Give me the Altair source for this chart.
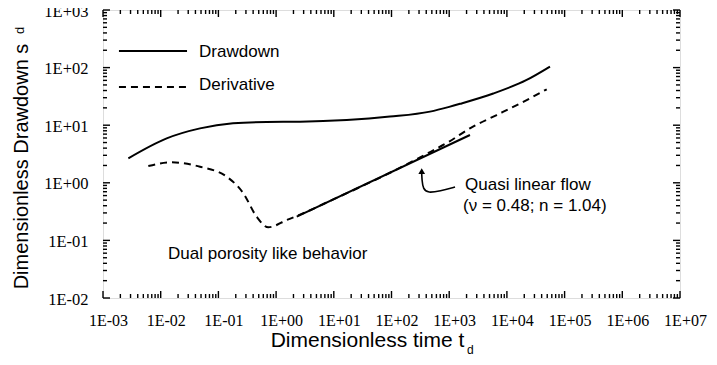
import altair as alt
import pandas as pd

# ---------------- data ----------------
drawdown_t = [0.00275, 0.0127, 0.048, 0.179, 0.688, 2.6, 16.7, 94, 464, 1000, 1540, 5810, 22000, 55800]
drawdown_s = [2.66, 5.9, 8.8, 10.8, 11.4, 11.5, 12.3, 14.1, 17.2, 20.8, 23.5, 35.5, 61, 104]

deriv_t = [0.0061, 0.0155, 0.048, 0.139, 0.27, 0.46, 0.733, 1.53, 2.6, 10, 100, 400, 1000, 2450, 6650, 20000, 49000]
deriv_s = [1.96, 2.27, 1.9, 1.28, 0.66, 0.258, 0.169, 0.226, 0.28, 0.52, 1.54, 3.15, 5.2, 9.2, 15, 26, 42]

fit_t = [2.28, 2290]
fit_s = [0.258, 6.76]

arrow_t = [1262, 692, 429, 352, 338, 334]
arrow_s = [0.845, 0.721, 0.665, 0.78, 1.12, 1.42]
arrow_head_t = [334]
arrow_head_s = [1.6]

x_decades = [1e-3, 1e-2, 1e-1, 1e0, 1e1, 1e2, 1e3, 1e4, 1e5, 1e6, 1e7]
x_labels = ["1E-03", "1E-02", "1E-01", "1E+00", "1E+01", "1E+02", "1E+03", "1E+04", "1E+05", "1E+06", "1E+07"]
y_decades = [1e-2, 1e-1, 1e0, 1e1, 1e2, 1e3]
y_labels = ["1E-02", "1E-01", "1E+00", "1E+01", "1E+02", "1E+03"]
minor_mult = [2, 3, 4, 5, 6, 7, 8, 9]

legend_line_t = [0.00189, 0.0286]
legend_drawdown_s = [194, 194]
legend_deriv_s = [46, 46]
legend_text_t = [0.0462, 0.0462]
legend_text_s = [187, 49.9]
legend_text = ["Drawdown", "Derivative"]

note_t = [1880, 1735, 0.0134]
note_s = [0.916, 0.396, 0.058]
note_text = ["Quasi linear flow", "(\u03bd = 0.48; n = 1.04)", "Dual porosity like behavior"]

# ---------------- layout ----------------
W, H = 577, 288
SANS = "Liberation Sans, Arial, Helvetica, sans-serif"
SERIF = "Liberation Serif, Times New Roman, DejaVu Serif, serif"

xs = alt.Scale(type="log", domain=[1e-3, 1e7], nice=False)
ys = alt.Scale(type="log", domain=[1e-2, 1e3], nice=False)


def label_expr(labels, first_exp):
    arr = "[" + ",".join("'%s'" % l for l in labels) + "]"
    return "%s[round(log(datum.value)/LN10) - (%d)]" % (arr, first_exp)


x_axis = alt.Axis(
    values=x_decades, labelExpr=label_expr(x_labels, -3), ticks=False, domain=False, grid=False,
    labelFont=SERIF, labelFontSize=16, labelPadding=14, labelFlush=False, labelOverlap=False,
    labelOffset=5, labelColor="black",
    title="Dimensionless time t", titleFont=SANS, titleFontSize=21, titleFontWeight="normal",
    titleColor="black", titleX=264, titleY=48, titleAlign="center", titleBaseline="alphabetic",
)
y_axis = alt.Axis(
    values=y_decades, labelExpr=label_expr(y_labels, -2), ticks=False, domain=False, grid=False,
    labelFont=SERIF, labelFontSize=16.5, labelPadding=15, labelFlush=False, labelOverlap=False,
    labelColor="black", labelBaseline="middle", labelOffset=1,
    title="Dimensionless Drawdown s", titleFont=SANS, titleFontSize=20, titleFontWeight="normal",
    titleColor="black", titleAngle=270, titleX=-76, titleY=156, titleAlign="center",
    titleBaseline="alphabetic",
)

draw_df = pd.DataFrame({"t": drawdown_t, "s": drawdown_s})
der_df = pd.DataFrame({"t": deriv_t, "s": deriv_s})
fit_df = pd.DataFrame({"t": fit_t, "s": fit_s})
arrow_df = pd.DataFrame({"t": arrow_t, "s": arrow_s, "i": list(range(len(arrow_t)))})
head_df = pd.DataFrame({"t": arrow_head_t, "s": arrow_head_s})

base_draw = alt.Chart(draw_df).mark_line(color="black", strokeWidth=2, interpolate="monotone").encode(
    x=alt.X("t:Q", scale=xs, axis=x_axis),
    y=alt.Y("s:Q", scale=ys, axis=y_axis),
)
deriv = alt.Chart(der_df).mark_line(color="black", strokeWidth=2, strokeDash=[7, 5], interpolate="monotone").encode(
    x=alt.X("t:Q", scale=xs), y=alt.Y("s:Q", scale=ys)
)
fit = alt.Chart(fit_df).mark_line(color="black", strokeWidth=2).encode(
    x=alt.X("t:Q", scale=xs), y=alt.Y("s:Q", scale=ys)
)
arrow = alt.Chart(arrow_df).mark_line(color="black", strokeWidth=1.6, interpolate="basis").encode(
    x=alt.X("t:Q", scale=xs), y=alt.Y("s:Q", scale=ys), order="i:O"
)
head = alt.Chart(head_df).mark_point(shape="triangle-up", filled=True, color="black", size=45, opacity=1).encode(
    x=alt.X("t:Q", scale=xs), y=alt.Y("s:Q", scale=ys)
)

leg1 = alt.Chart(pd.DataFrame({"t": legend_line_t, "s": legend_drawdown_s})).mark_line(
    color="black", strokeWidth=2).encode(x=alt.X("t:Q", scale=xs), y=alt.Y("s:Q", scale=ys))
leg2 = alt.Chart(pd.DataFrame({"t": legend_line_t, "s": legend_deriv_s})).mark_line(
    color="black", strokeWidth=2, strokeDash=[7, 5]).encode(x=alt.X("t:Q", scale=xs), y=alt.Y("s:Q", scale=ys))
leg_txt = alt.Chart(pd.DataFrame({"t": legend_text_t, "s": legend_text_s, "txt": legend_text})).mark_text(
    align="left", baseline="middle", font=SANS, fontSize=17, color="black").encode(
    x=alt.X("t:Q", scale=xs), y=alt.Y("s:Q", scale=ys), text="txt:N")
notes = alt.Chart(pd.DataFrame({"t": note_t, "s": note_s, "txt": note_text})).mark_text(
    align="left", baseline="middle", font=SANS, fontSize=17, color="black").encode(
    x=alt.X("t:Q", scale=xs), y=alt.Y("s:Q", scale=ys), text="txt:N")

# tick marks (inward, on all four sides)
x_minor = [m * d for d in x_decades[:-1] for m in minor_mult]
y_minor = [m * d for d in y_decades[:-1] for m in minor_mult]
xmaj = pd.DataFrame({"t": x_decades})
xmin = pd.DataFrame({"t": x_minor})
ymaj = pd.DataFrame({"s": y_decades})
ymin = pd.DataFrame({"s": y_minor})
MAJ, MIN = 7, 4
tick_layers = []
for df, ln in ((xmaj, MAJ), (xmin, MIN)):
    tick_layers.append(alt.Chart(df).mark_rule(color="black", strokeWidth=1.4).encode(
        x=alt.X("t:Q", scale=xs), y=alt.value(H), y2=alt.value(H - ln)))
    tick_layers.append(alt.Chart(df).mark_rule(color="black", strokeWidth=1.4).encode(
        x=alt.X("t:Q", scale=xs), y=alt.value(0), y2=alt.value(ln)))
for df, ln in ((ymaj, MAJ), (ymin, MIN)):
    tick_layers.append(alt.Chart(df).mark_rule(color="black", strokeWidth=1.4).encode(
        y=alt.Y("s:Q", scale=ys), x=alt.value(0), x2=alt.value(ln)))
    tick_layers.append(alt.Chart(df).mark_rule(color="black", strokeWidth=1.4).encode(
        y=alt.Y("s:Q", scale=ys), x=alt.value(W), x2=alt.value(W - ln)))

# subscripts of axis titles
sub_df = pd.DataFrame({"k": [0]})
sub_x = alt.Chart(sub_df).mark_text(text="d", font=SANS, fontSize=12, color="black", align="left",
                                    baseline="alphabetic").encode(x=alt.value(364), y=alt.value(344))
sub_y = alt.Chart(sub_df).mark_text(text="d", font=SANS, fontSize=13, color="black", align="left",
                                    baseline="middle", angle=270).encode(x=alt.value(-83), y=alt.value(24))

chart = alt.layer(
    base_draw, deriv, fit, arrow, head, leg1, leg2, leg_txt, notes, *tick_layers, sub_x, sub_y
).properties(
    width=W, height=H,
    autosize=alt.AutoSizeParams(type="none"),
    padding={"left": 95, "top": 2, "right": 29, "bottom": 58},
).configure_view(stroke="black", strokeWidth=2).configure(background="white")

chart.save("out.html", embed_options={"renderer": "svg", "actions": False})
